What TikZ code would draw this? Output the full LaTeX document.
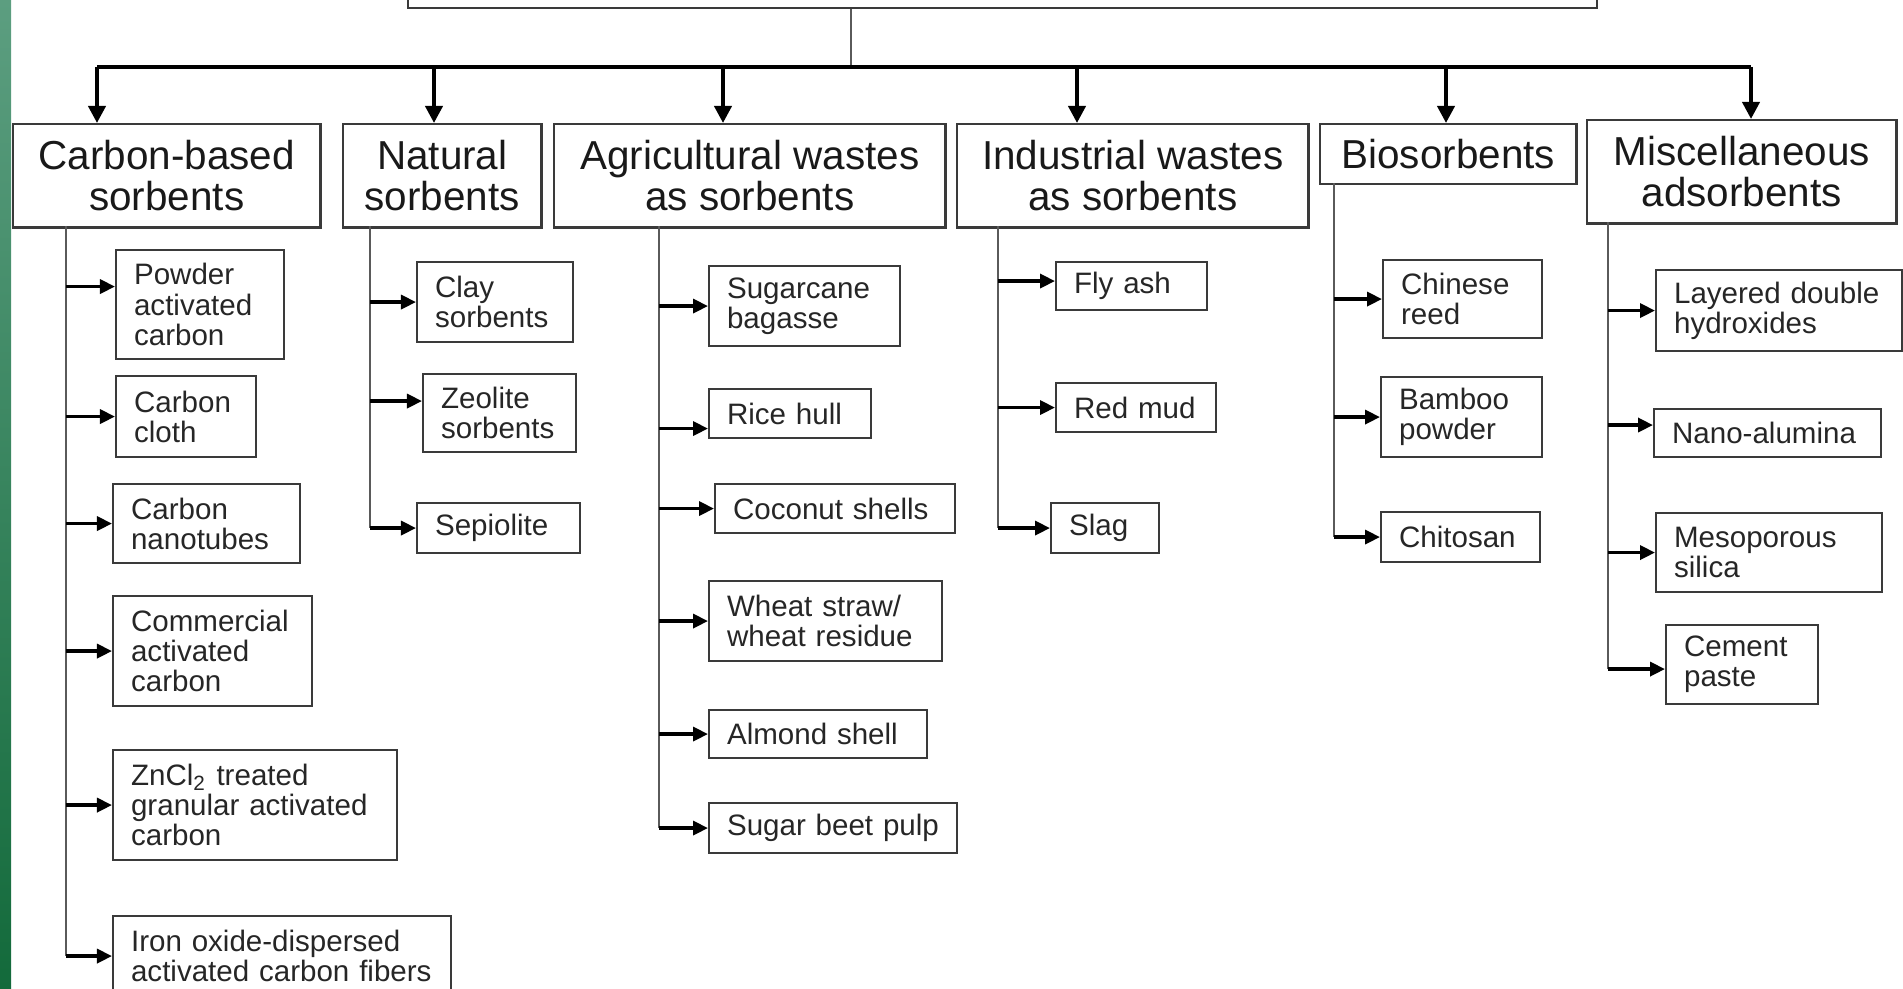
\documentclass[tikz,border=0pt]{standalone}
\usepackage{fontspec}
\setmainfont{Liberation Sans}
\usetikzlibrary{arrows.meta}

\definecolor{stripTop}{HTML}{5C9E80}
\definecolor{stripBot}{HTML}{136A3B}
\definecolor{boxline}{HTML}{3A3A3A}
\definecolor{spineline}{HTML}{5A5A5A}

\tikzset{
  cat/.style 2 args={draw=boxline, line width=0.7pt, anchor=north west,
    minimum width=#1, minimum height=#2, inner sep=0pt, align=center,
    font=\fontsize{11.5}{11.5}\selectfont, text=black!90},
  item/.style 2 args={draw=boxline, line width=0.6pt, anchor=north west,
    text width=#1, minimum height=#2, inner xsep=0.18cm, inner ysep=0pt,
    align=left, font=\fontsize{8.4}{8.6}\selectfont, text=black!85},
  bigarr/.style={-{Triangle[length=0.17cm,width=0.17cm]}, line width=1.1pt, black},
  arr/.style={-{Triangle[length=0.15cm,width=0.14cm]}, line width=1pt, black},
  spine/.style={line width=0.7pt, spineline},
}

\begin{document}
\begin{tikzpicture}[x=0.01cm, y=-0.01cm]
\useasboundingbox (0,0) rectangle (1903,989);
\clip (0,0) rectangle (1903,989);
\shade[top color=stripTop, bottom color=stripBot] (0,0) rectangle (11,989);

\def\ybus{67}

\node[draw=boxline, line width=0.7pt, anchor=south west, minimum width=11.88cm, minimum height=1cm] (root) at (407,9) {};
\coordinate (bus) at (851,\ybus);
\draw[spine] (root.south -| bus) -- (bus);

\node[cat={3.07cm}{1.03cm}] (cb) at (12,123) {Carbon-based\\sorbents};
\node[cat={1.98cm}{1.03cm}] (nat) at (342,123) {Natural\\sorbents};
\node[cat={3.91cm}{1.03cm}] (agr) at (553,123) {Agricultural wastes\\as sorbents};
\node[cat={3.51cm}{1.03cm}] (ind) at (956,123) {Industrial wastes\\as sorbents};
\node[cat={2.56cm}{0.60cm}] (bio) at (1319,123) {Biosorbents};
\node[cat={3.09cm}{1.03cm}] (misc) at (1586,119) {Miscellaneous\\adsorbents};

\coordinate (ka) at (97,\ybus);
\coordinate (kb) at (434,\ybus);
\coordinate (kc) at (723,\ybus);
\coordinate (kd) at (1077,\ybus);
\coordinate (ke) at (1446,\ybus);
\coordinate (kf) at (1751,\ybus);
\draw[line width=1pt] (ka) -- (kf);
\draw[bigarr] (ka) -- (ka |- cb.north);
\draw[bigarr] (kb) -- (kb |- nat.north);
\draw[bigarr] (kc) -- (kc |- agr.north);
\draw[bigarr] (kd) -- (kd |- ind.north);
\draw[bigarr] (ke) -- (ke |- bio.north);
\draw[bigarr] (kf) -- (kf |- misc.north);

\node[item={1.32cm}{1.09cm}] (pac) at (115,249) {Powder\\activated\\carbon};
\node[item={1.04cm}{0.81cm}] (cc) at (115,375) {Carbon\\cloth};
\node[item={1.51cm}{0.79cm}] (cnt) at (112,483) {Carbon\\nanotubes};
\node[item={1.63cm}{1.10cm}] (cac) at (112,595) {Commercial\\activated\\carbon};
\node[item={2.48cm}{1.10cm}] (zn) at (112,749) {ZnCl\textsubscript{2} treated\\granular activated\\carbon};
\node[item={3.02cm}{0.80cm}] (iron) at (112,915) {Iron oxide-dispersed\\activated carbon fibers};

\node[item={1.20cm}{0.80cm}] (clay) at (416,261) {Clay\\sorbents};
\node[item={1.17cm}{0.78cm}] (zeo) at (422,373) {Zeolite\\sorbents};
\node[item={1.27cm}{0.50cm}] (sep) at (416,502) {Sepiolite};

\node[item={1.55cm}{0.80cm}] (sug) at (708,265) {Sugarcane\\bagasse};
\node[item={1.26cm}{0.49cm}] (rice) at (708,388) {Rice hull};
\node[item={2.04cm}{0.49cm}] (coco) at (714,483) {Coconut shells};
\node[item={1.97cm}{0.80cm}] (wheat) at (708,580) {Wheat straw/\\wheat residue};
\node[item={1.82cm}{0.48cm}] (alm) at (708,709) {Almond shell};
\node[item={2.12cm}{0.50cm}] (beet) at (708,802) {Sugar beet pulp};

\node[item={1.15cm}{0.48cm}] (fly) at (1055,261) {Fly ash};
\node[item={1.24cm}{0.49cm}] (red) at (1055,382) {Red mud};
\node[item={0.72cm}{0.50cm}] (slag) at (1050,502) {Slag};

\node[item={1.23cm}{0.78cm}] (reed) at (1382,259) {Chinese\\reed};
\node[item={1.25cm}{0.80cm}] (bam) at (1380,376) {Bamboo\\powder};
\node[item={1.23cm}{0.50cm}] (chi) at (1380,511) {Chitosan};

\node[item={2.10cm}{0.81cm}] (ldh) at (1655,269) {Layered double\\hydroxides};
\node[item={1.91cm}{0.48cm}] (nano) at (1653,408) {Nano-alumina};
\node[item={1.90cm}{0.79cm}] (meso) at (1655,512) {Mesoporous\\silica};
\node[item={1.16cm}{0.79cm}] (cem) at (1665,624) {Cement\\paste};

\coordinate (sa) at (66,226);
\coordinate (sb) at (370,226);
\coordinate (sc) at (659,226);
\coordinate (sd) at (998,226);
\coordinate (se) at (1334,183);
\coordinate (sf) at (1608,222);

\coordinate (pa) at ([yshift=0.18cm]pac.west);
\coordinate (za) at ([yshift=0.12cm]zeo.west);
\coordinate (ra) at ([yshift=-0.15cm]rice.west);
\coordinate (fa) at ([yshift=0.05cm]fly.west);
\coordinate (na) at ([yshift=0.08cm]nano.west);
\coordinate (ca) at ([yshift=-0.045cm]cem.west);

\draw[spine] (sa) -- (sa |- iron.west);
\draw[arr] (sa |- pa) -- (pa);
\draw[arr] (sa |- cc.west) -- (cc.west);
\draw[arr] (sa |- cnt.west) -- (cnt.west);
\draw[arr] (sa |- cac.west) -- (cac.west);
\draw[arr] (sa |- zn.west) -- (zn.west);
\draw[arr] (sa |- iron.west) -- (iron.west);

\draw[spine] (sb) -- (sb |- sep.west);
\draw[arr] (sb |- clay.west) -- (clay.west);
\draw[arr] (sb |- za) -- (za);
\draw[arr] (sb |- sep.west) -- (sep.west);

\draw[spine] (sc) -- (sc |- beet.west);
\draw[arr] (sc |- sug.west) -- (sug.west);
\draw[arr] (sc |- ra) -- (ra);
\draw[arr] (sc |- coco.west) -- (coco.west);
\draw[arr] (sc |- wheat.west) -- (wheat.west);
\draw[arr] (sc |- alm.west) -- (alm.west);
\draw[arr] (sc |- beet.west) -- (beet.west);

\draw[spine] (sd) -- (sd |- slag.west);
\draw[arr] (sd |- fa) -- (fa);
\draw[arr] (sd |- red.west) -- (red.west);
\draw[arr] (sd |- slag.west) -- (slag.west);

\draw[spine] (se) -- (se |- chi.west);
\draw[arr] (se |- reed.west) -- (reed.west);
\draw[arr] (se |- bam.west) -- (bam.west);
\draw[arr] (se |- chi.west) -- (chi.west);

\draw[spine] (sf) -- (sf |- ca);
\draw[arr] (sf |- ldh.west) -- (ldh.west);
\draw[arr] (sf |- na) -- (na);
\draw[arr] (sf |- meso.west) -- (meso.west);
\draw[arr] (sf |- ca) -- (ca);
\end{tikzpicture}
\end{document}
